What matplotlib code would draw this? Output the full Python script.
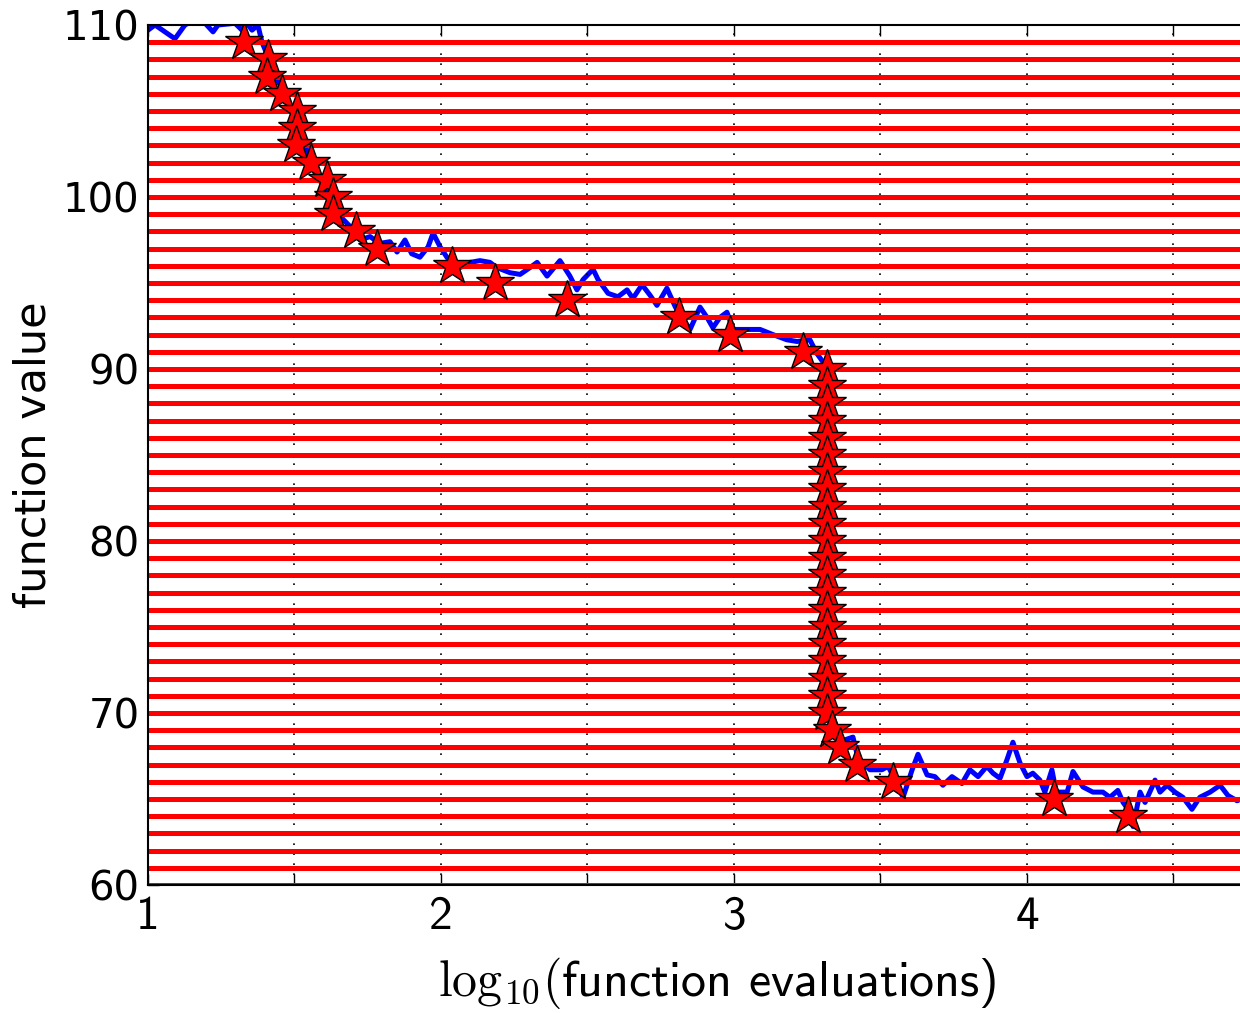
import matplotlib
matplotlib.use("Agg")
import matplotlib.pyplot as plt
import numpy as np

plt.rcParams['mathtext.fontset'] = 'cm'
plt.rcParams['axes.unicode_minus'] = False

# Red horizontal reference levels
levels = list(range(60, 110))

# Star markers (x = log10 evaluations, y = function value)
star_x = [1.328, 1.410, 1.406, 1.457, 1.509, 1.509, 1.505, 1.556, 1.611, 1.631,
          1.631, 1.710, 1.782, 2.038, 2.184, 2.430, 2.812, 2.986, 3.235] + [3.317] * 21 + \
         [3.334, 3.362, 3.420, 3.543, 4.092, 4.345]
star_y = list(range(109, 63, -1))

# Blue noisy trace
line_x = [1.000, 1.024, 1.092, 1.126, 1.160, 1.195, 1.222, 1.239, 1.297, 1.321,
          1.338, 1.355, 1.375, 1.389, 1.406, 1.427, 1.444, 1.468, 1.500, 1.520,
          1.546, 1.563, 1.600, 1.630, 1.666, 1.689, 1.724, 1.758, 1.790, 1.826,
          1.850, 1.877, 1.900, 1.928, 1.956, 1.973, 1.997, 2.020, 2.054, 2.100,
          2.133, 2.167, 2.190, 2.235, 2.270, 2.304, 2.328, 2.362, 2.406, 2.440,
          2.464, 2.485, 2.519, 2.536, 2.570, 2.604, 2.635, 2.655, 2.686, 2.713,
          2.737, 2.771, 2.800, 2.826, 2.850, 2.884, 2.908, 2.928, 2.952, 2.976,
          2.997, 3.044, 3.089, 3.133, 3.180, 3.215, 3.259, 3.283, 3.304, 3.312,
          3.317, 3.325, 3.355, 3.406, 3.423, 3.464, 3.505, 3.526, 3.556, 3.577,
          3.608, 3.628, 3.659, 3.686, 3.713, 3.744, 3.778, 3.805, 3.833, 3.863,
          3.884, 3.908, 3.932, 3.952, 3.976, 4.000, 4.020, 4.044, 4.061, 4.085,
          4.100, 4.137, 4.157, 4.191, 4.225, 4.259, 4.283, 4.310, 4.328, 4.345,
          4.362, 4.386, 4.403, 4.427, 4.437, 4.454, 4.478, 4.505, 4.532, 4.563,
          4.590, 4.625, 4.659, 4.686, 4.717, 4.760]
line_y = [109.7, 110.0, 109.2, 110.0, 110.3, 110.1, 109.6, 110.0, 110.1, 109.7,
          110.1, 109.7, 110.0, 109.0, 108.3, 107.5, 106.7, 106.1, 104.5, 103.5,
          102.6, 101.6, 100.6, 99.5, 98.7, 98.3, 97.5, 97.7, 97.3, 97.4,
          96.8, 97.5, 96.7, 96.5, 97.1, 97.9, 97.1, 96.5, 95.8, 96.2,
          96.3, 96.2, 95.9, 95.6, 95.5, 95.9, 96.2, 95.4, 96.3, 95.4,
          94.6, 95.2, 95.8, 95.2, 94.4, 94.2, 94.6, 94.1, 94.9, 94.3,
          93.7, 94.7, 93.6, 92.9, 92.3, 93.6, 93.0, 92.4, 93.0, 93.3,
          92.3, 92.3, 92.3, 92.0, 91.7, 91.6, 91.7, 90.9, 90.4, 90.0,
          70.5, 69.6, 68.3, 68.6, 67.4, 66.7, 66.7, 66.9, 65.9, 65.1,
          66.7, 67.6, 66.4, 66.3, 65.8, 66.3, 65.9, 66.7, 66.3, 66.9,
          66.5, 66.2, 67.3, 68.3, 67.1, 66.3, 66.5, 66.1, 65.4, 66.7,
          65.4, 65.4, 66.6, 65.7, 65.4, 65.4, 65.1, 65.5, 64.8, 64.4,
          63.4, 65.4, 64.8, 65.7, 66.1, 65.4, 65.8, 65.4, 65.1, 64.4,
          65.1, 65.4, 65.8, 65.2, 64.9, 65.2]

xticks = [1, 1.5, 2, 2.5, 3, 3.5, 4, 4.5]
xtick_labels = ['1', '', '2', '', '3', '', '4', '']
yticks = [60, 70, 80, 90, 100, 110]

W, H = 1240, 1013
fig = plt.figure(figsize=(W / 100, H / 100), dpi=100)
ax = fig.add_axes([148 / W, 128 / H, 1138 / W, 860 / H])

ax.plot(line_x, line_y, color='#0000ff', lw=3.6, zorder=2)
for lv in levels:
    ax.axhline(lv, color='#ff0000', lw=3.6, zorder=3)
ax.plot(star_x, star_y, linestyle='none', marker='*', markersize=29,
        markerfacecolor='#ff0000', markeredgecolor='black', markeredgewidth=1.0, zorder=6)

ax.set_xlim(1, 4.884)
ax.set_ylim(60, 110)
ax.set_xticks(xticks)
ax.set_xticklabels(xtick_labels, fontsize=34, fontfamily='cmss10')
ax.set_yticks(yticks)
ax.set_yticklabels([str(v) for v in yticks], fontsize=29)
ax.tick_params(direction='in', length=8, width=1, top=True, right=True)
ax.tick_params(axis='x', pad=8)
ax.tick_params(axis='y', pad=6)
ax.grid(True, color='black', linestyle=(0, (1, 5)), lw=1.2, zorder=5)
ax.set_axisbelow(False)
for sp in ax.spines.values():
    sp.set_linewidth(1.5)
    sp.set_zorder(7)

ax.set_xlabel(r'$\mathrm{log}_{10}($function evaluations)', fontsize=36, fontfamily='cmss10', labelpad=12)
ax.set_ylabel('function value', fontsize=31, labelpad=6)

fig.savefig('out.png', dpi=100)
